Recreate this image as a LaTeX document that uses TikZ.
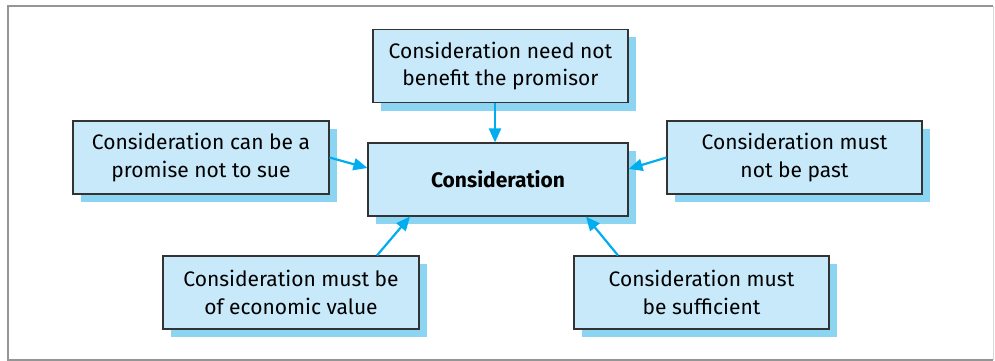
\documentclass[tikz,border=0pt]{standalone}
\usepackage{fontspec}
\setmainfont{Fira Sans}
\usetikzlibrary{arrows.meta,shadows}
\definecolor{boxfill}{HTML}{C8E9F9}
\definecolor{shadowblue}{HTML}{8BD5F3}
\definecolor{arrowblue}{HTML}{00AEEF}
\definecolor{framegray}{HTML}{959595}
\tikzset{
  box/.style={draw=black!80, line width=1.1pt, fill=boxfill, align=center,
    minimum width=255pt, minimum height=73pt, inner sep=0pt,
    font=\fontsize{21}{27.5}\selectfont,
    drop shadow={shadow xshift=8pt, shadow yshift=-8pt, fill=shadowblue, opacity=1}},
  conn/.style={draw=arrowblue, line width=2.2pt, -{Triangle[length=14pt,width=12pt]}}
}
\begin{document}
\begin{tikzpicture}[x=1pt,y=-1pt]
\useasboundingbox (0,0) rectangle (995,361);
\draw[framegray, line width=2.4pt] (993,6) -- (8,6) -- (8,360) -- (993,360);
\draw[black!15, line width=1pt] (993,6) -- (993,360);
\node[box] (top) at (500.5,66) {Consideration need not\\benefit the promisor};
\node[box, minimum width=256pt] (left) at (201,157.5) {Consideration can be a\\promise not to sue};
\node[box, minimum width=260pt, font=\fontsize{21}{27.5}\selectfont\bfseries] (center) at (498,179.5) {Consideration};
\node[box] (right) at (794.5,157.5) {Consideration must\\not be past};
\node[box, minimum width=256pt] (bl) at (291,292.5) {Consideration must be\\of economic value};
\node[box] (br) at (701.5,292.5) {Consideration must\\be sufficient};
\draw[conn] ([xshift=-5.5pt]top.south) -- ([xshift=-3pt]center.north);
\draw[conn] (left.east) -- ([yshift=11.5pt]center.west);
\draw[conn] (right.west) -- ([yshift=10.5pt]center.east);
\draw[conn] ([xshift=86pt]bl.north) -- ([xshift=-88pt]center.south);
\draw[conn] ([xshift=-83.5pt]br.north) -- ([xshift=88pt]center.south);
\end{tikzpicture}
\end{document}
